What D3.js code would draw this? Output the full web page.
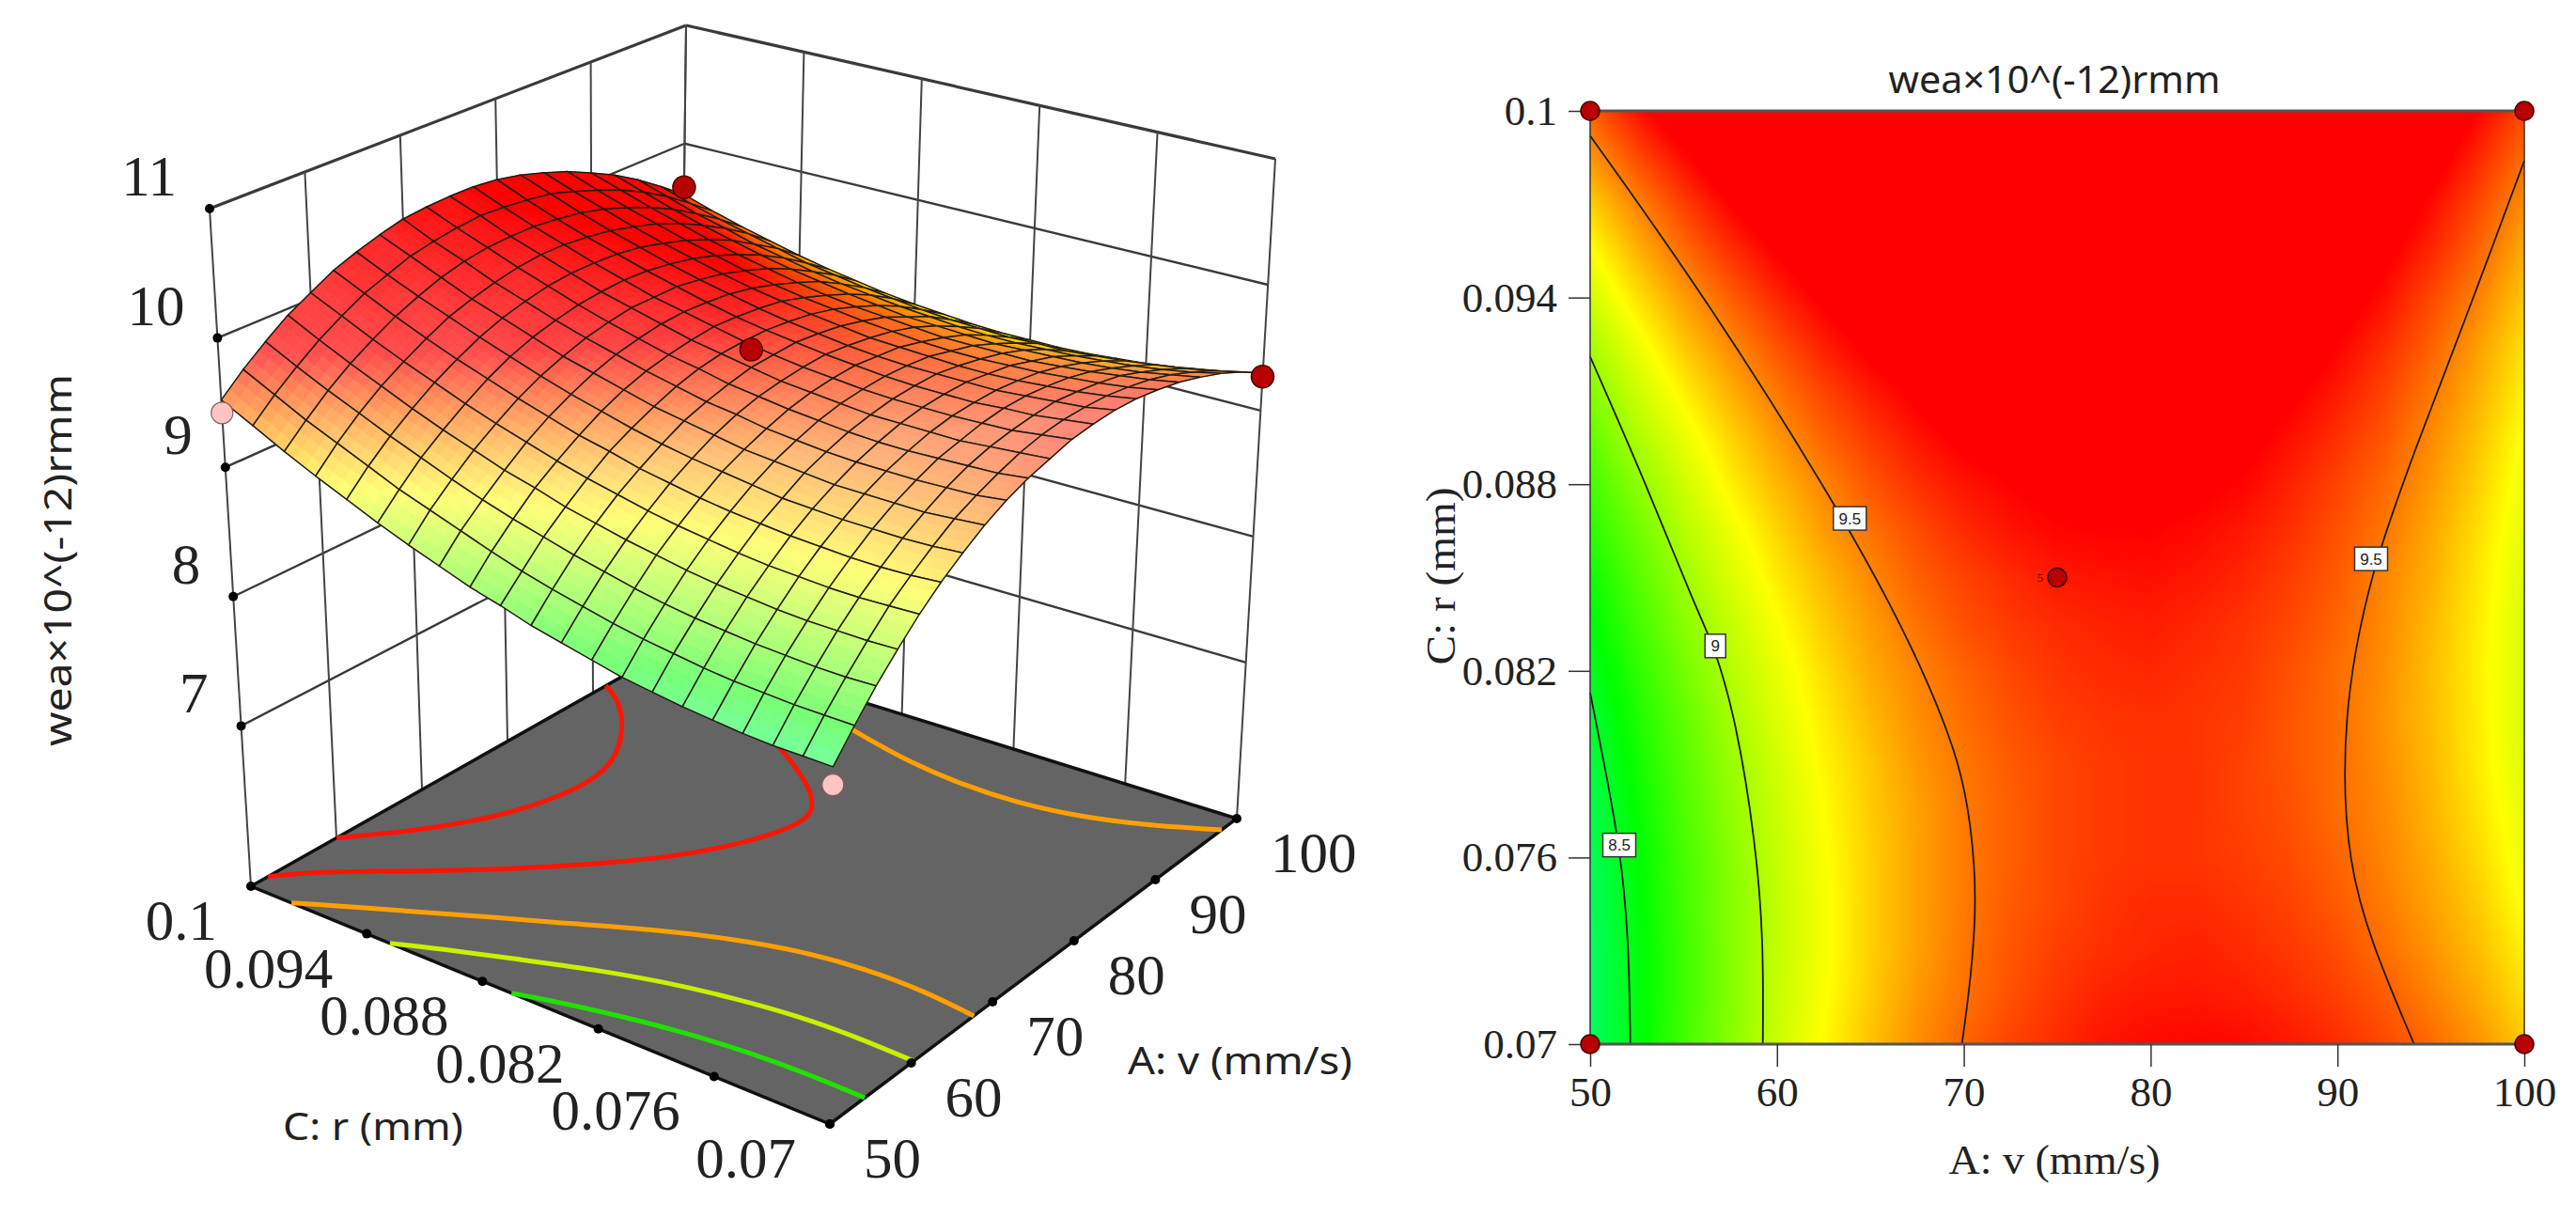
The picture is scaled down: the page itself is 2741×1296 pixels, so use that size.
<!DOCTYPE html>
<html>
<head>
<meta charset="utf-8">
<script src="https://cdn.jsdelivr.net/npm/d3@7"></script>
<style>
  body { margin: 0; background: #fff; }
  svg { display: block; }
</style>
</head>
<body>
<script>
const vTicks = [50, 60, 70, 80, 90, 100];
const rTicks = [0.07, 0.076, 0.082, 0.088, 0.094, 0.1];
const rLabels = ['0.07', '0.076', '0.082', '0.088', '0.094', '0.1'];
const zTicks = [7, 8, 9, 10, 11];
const zFloor = 5.76;
const zTitle = 'wea\u00d710^(-12)rmm';

// response: one row per v step (50 to 100), one column per r step (0.07 to 0.1)
const zTable = [
  [8.33, 8.33, 8.33, 8.34, 8.36, 8.38, 8.41, 8.44, 8.49, 8.54, 8.59, 8.66, 8.72, 8.80, 8.88, 8.97, 9.07, 9.17, 9.28, 9.40, 9.52],
  [8.53, 8.53, 8.53, 8.54, 8.55, 8.57, 8.60, 8.63, 8.67, 8.72, 8.77, 8.83, 8.90, 8.98, 9.06, 9.14, 9.24, 9.34, 9.44, 9.56, 9.68],
  [8.72, 8.71, 8.71, 8.72, 8.73, 8.75, 8.77, 8.80, 8.84, 8.89, 8.94, 9.00, 9.06, 9.13, 9.21, 9.30, 9.39, 9.49, 9.59, 9.70, 9.82],
  [8.89, 8.88, 8.88, 8.88, 8.89, 8.91, 8.93, 8.96, 9.00, 9.04, 9.09, 9.14, 9.21, 9.27, 9.35, 9.43, 9.52, 9.62, 9.72, 9.83, 9.95],
  [9.05, 9.04, 9.03, 9.03, 9.04, 9.05, 9.07, 9.10, 9.13, 9.17, 9.22, 9.27, 9.33, 9.40, 9.47, 9.55, 9.64, 9.73, 9.83, 9.94, 10.05],
  [9.19, 9.17, 9.16, 9.16, 9.17, 9.18, 9.20, 9.22, 9.25, 9.29, 9.33, 9.39, 9.44, 9.51, 9.58, 9.66, 9.74, 9.83, 9.93, 10.04, 10.15],
  [9.31, 9.29, 9.28, 9.28, 9.28, 9.29, 9.30, 9.33, 9.36, 9.39, 9.43, 9.48, 9.54, 9.60, 9.67, 9.75, 9.83, 9.92, 10.01, 10.11, 10.22],
  [9.42, 9.40, 9.38, 9.38, 9.38, 9.38, 9.40, 9.42, 9.44, 9.48, 9.52, 9.56, 9.62, 9.68, 9.74, 9.82, 9.90, 9.98, 10.08, 10.18, 10.28],
  [9.51, 9.48, 9.47, 9.46, 9.46, 9.46, 9.47, 9.49, 9.51, 9.55, 9.58, 9.63, 9.68, 9.74, 9.80, 9.87, 9.95, 10.03, 10.13, 10.22, 10.33],
  [9.58, 9.55, 9.54, 9.53, 9.52, 9.52, 9.53, 9.55, 9.57, 9.60, 9.63, 9.68, 9.72, 9.78, 9.84, 9.91, 9.99, 10.07, 10.16, 10.25, 10.35],
  [9.63, 9.61, 9.59, 9.57, 9.57, 9.57, 9.57, 9.59, 9.61, 9.63, 9.67, 9.71, 9.75, 9.81, 9.87, 9.93, 10.01, 10.09, 10.17, 10.27, 10.36],
  [9.68, 9.65, 9.62, 9.61, 9.60, 9.60, 9.60, 9.61, 9.63, 9.65, 9.68, 9.72, 9.77, 9.82, 9.87, 9.94, 10.01, 10.09, 10.17, 10.26, 10.36],
  [9.70, 9.67, 9.64, 9.63, 9.61, 9.61, 9.61, 9.62, 9.64, 9.66, 9.69, 9.72, 9.76, 9.81, 9.87, 9.93, 10.00, 10.07, 10.15, 10.24, 10.34],
  [9.71, 9.67, 9.65, 9.63, 9.61, 9.61, 9.61, 9.61, 9.62, 9.64, 9.67, 9.70, 9.74, 9.79, 9.84, 9.90, 9.97, 10.04, 10.12, 10.21, 10.30],
  [9.70, 9.66, 9.63, 9.61, 9.59, 9.58, 9.58, 9.59, 9.60, 9.61, 9.64, 9.67, 9.71, 9.75, 9.80, 9.86, 9.92, 9.99, 10.07, 10.15, 10.24],
  [9.67, 9.63, 9.60, 9.58, 9.56, 9.55, 9.54, 9.54, 9.55, 9.57, 9.59, 9.62, 9.65, 9.69, 9.74, 9.80, 9.86, 9.93, 10.00, 10.08, 10.17],
  [9.63, 9.59, 9.56, 9.53, 9.51, 9.49, 9.49, 9.49, 9.49, 9.51, 9.53, 9.55, 9.58, 9.62, 9.67, 9.72, 9.78, 9.85, 9.92, 10.00, 10.08],
  [9.57, 9.53, 9.49, 9.46, 9.44, 9.43, 9.42, 9.41, 9.42, 9.43, 9.44, 9.47, 9.50, 9.54, 9.58, 9.63, 9.69, 9.75, 9.82, 9.90, 9.98],
  [9.50, 9.45, 9.41, 9.38, 9.36, 9.34, 9.33, 9.32, 9.32, 9.33, 9.35, 9.37, 9.40, 9.43, 9.47, 9.52, 9.57, 9.64, 9.70, 9.78, 9.86],
  [9.41, 9.36, 9.32, 9.29, 9.26, 9.24, 9.22, 9.22, 9.21, 9.22, 9.23, 9.25, 9.28, 9.31, 9.35, 9.39, 9.45, 9.51, 9.57, 9.64, 9.72],
  [9.30, 9.25, 9.21, 9.17, 9.14, 9.12, 9.10, 9.09, 9.09, 9.09, 9.10, 9.12, 9.14, 9.17, 9.21, 9.25, 9.30, 9.36, 9.42, 9.49, 9.57]
];

// contours, [v, r]
const contour85 = [[50, 0.0813], [50.76, 0.079], [51.6, 0.0763], [52.07, 0.0734], [52.15, 0.07]];
const contour90 = [[50, 0.0921], [53.07, 0.0879], [55.66, 0.084], [56.65, 0.0828], [57.85, 0.0803], [58.85, 0.0765], [59.28, 0.0734], [59.24, 0.07]];
const contour95a = [[50, 0.0992], [56.3, 0.0939], [63.2, 0.0873], [66.2, 0.084], [68.2, 0.0815], [69.8, 0.079], [70.4, 0.077], [70.7, 0.0747], [70.4, 0.0722], [69.9, 0.07]];
const contour95b = [[100, 0.0984], [97.9, 0.095], [96.2, 0.0923], [94.2, 0.0892], [92.3, 0.086], [91.4, 0.084], [90.6, 0.0815], [90.3, 0.0787], [90.6, 0.0759], [91.7, 0.0734], [94.1, 0.07]];

// contours on the floor of the 3D plot, [v, r]
const floor867 = [[54.29, 0.07], [54.4, 0.073], [54.15, 0.076], [53.5, 0.079], [52.4, 0.082], [50.95, 0.085], [50, 0.0865]];
const floor902 = [[60.3, 0.07], [60.5, 0.073], [60.3, 0.076], [59.5, 0.079], [58.3, 0.082], [56.5, 0.085], [54.15, 0.088], [51.75, 0.091], [50, 0.0928]];
const floor938a = [[67.7, 0.07], [68.4, 0.073], [68.4, 0.076], [67.7, 0.079], [66.1, 0.082], [63.8, 0.085], [60.75, 0.088], [57.8, 0.091], [54.5, 0.094], [51.15, 0.097], [50, 0.0979]];
const floor938b = [[98.15, 0.07], [95.95, 0.073], [94.4, 0.076], [93.65, 0.079], [93.7, 0.082], [94.35, 0.085], [95.65, 0.088], [97.15, 0.091], [99.05, 0.094], [100, 0.0955]];
const floor968 = [[52, 0.1], [55, 0.0988], [60.5, 0.0952], [66, 0.0919], [72, 0.0886], [77.5, 0.0865], [83, 0.0854], [85.5, 0.0862], [88, 0.0877], [92.5, 0.0919], [96.5, 0.0964], [99, 0.1]];
const floor1005 = [[60, 0.1], [62.5, 0.0989], [65, 0.0978], [70, 0.0961], [75, 0.0952], [80, 0.0949], [85, 0.0961], [90, 0.0985], [91.5, 0.1]];

const floorLines = [
  { pts: floor867, color: '#22e000' },
  { pts: floor902, color: '#c8f000' },
  { pts: floor938a, color: '#ffa000' },
  { pts: floor938b, color: '#ffa000' },
  { pts: floor968, color: '#ff1400' },
  { pts: floor1005, color: '#ff1400' }
];
const flatLines = [contour85, contour90, contour95a, contour95b];
const flatLabels = [[63.9, 0.0869, '9.5'], [91.8, 0.0856, '9.5'], [56.7, 0.0828, '9'], [51.56, 0.0764, '8.5']];

// design points, [v, r, z]
const lowPoints = [[50, 0.1, 9.42], [50, 0.07, 8.2]];
const highPoints = [[100, 0.1, 9.63], [100, 0.07, 9.27], [75, 0.085, 9.81]];
const flatPoints = [[50, 0.1], [100, 0.1], [50, 0.07], [100, 0.07], [75, 0.085]];

const serif = '"Liberation Serif", serif';
const sans = '"Noto Sans", sans-serif';

const svg = d3.select('body').append('svg').attr('width', 2741).attr('height', 1296);

const aScale = d3.scaleLinear().domain([50, 100]).range([0, 1]);
const cScale = d3.scaleLinear().domain([0.07, 0.1]).range([0, 1]);
const hScale = d3.scaleLinear().domain([zFloor, 11]).range([0, 1]);

const heat = d3.scaleLinear()
  .domain([7.94, 8.56, 9.18, 9.72])
  .range(['#00ffff', '#00ff00', '#ffff00', '#ff0000'])
  .clamp(true);
const heat3d = d3.scaleLinear()
  .domain([7.88, 8.5, 9.12, 9.76])
  .range(['#00ffff', '#00ff00', '#ffff00', '#ff0000'])
  .clamp(true);

// box corners on screen: a0c0, a1c0, a1c1, a0c1
const floorQuad = [[883, 1196], [1316, 871], [722, 686], [267, 943]];
const topQuad = [[890, 421], [1357, 169], [730, 27], [223, 222]];

function bilinear(q, a, c) {
  const x = (1 - a) * ((1 - c) * q[0][0] + c * q[3][0]) + a * ((1 - c) * q[1][0] + c * q[2][0]);
  const y = (1 - a) * ((1 - c) * q[0][1] + c * q[3][1]) + a * ((1 - c) * q[1][1] + c * q[2][1]);
  return [x, y];
}

function project(v, r, z) {
  const f = bilinear(floorQuad, aScale(v), cScale(r));
  const t = bilinear(topQuad, aScale(v), cScale(r));
  const h = hScale(z);
  return [f[0] + (t[0] - f[0]) * h, f[1] + (t[1] - f[1]) * h];
}

const line = d3.line();
const smooth = d3.line().curve(d3.curveBasis);

function drawSegment(g, a, b, color, width) {
  g.append('line')
    .attr('x1', a[0]).attr('y1', a[1])
    .attr('x2', b[0]).attr('y2', b[1])
    .attr('stroke', color).attr('stroke-width', width);
}

// 3D panel
const box = svg.append('g');
const vMin = 50, vMax = 100, rMin = 0.07, rMax = 0.1;

// back walls
zTicks.forEach(z => {
  const width = z === 11 ? 3.2 : 2.4;
  drawSegment(box, project(vMin, rMax, z), project(vMax, rMax, z), '#3a3a3a', width);
  drawSegment(box, project(vMax, rMax, z), project(vMax, rMin, z), '#3a3a3a', width);
});
vTicks.forEach(v => {
  drawSegment(box, project(v, rMax, zFloor), project(v, rMax, 11), '#444', 2);
});
rTicks.forEach(r => {
  drawSegment(box, project(vMax, r, zFloor), project(vMax, r, 11), '#444', 2);
});

// floor
box.append('path')
  .attr('d', line([project(vMin, rMin, zFloor), project(vMax, rMin, zFloor), project(vMax, rMax, zFloor), project(vMin, rMax, zFloor)]) + 'Z')
  .attr('fill', '#646464').attr('stroke', '#111').attr('stroke-width', 3.5);

floorLines.forEach(d => {
  box.append('path')
    .attr('d', smooth(d.pts.map(p => project(p[0], p[1], zFloor))))
    .attr('fill', 'none').attr('stroke', d.color).attr('stroke-width', 5);
});

// tick dots
const dotData = [];
rTicks.forEach(r => dotData.push(project(vMin, r, zFloor)));
vTicks.forEach(v => dotData.push(project(v, rMin, zFloor)));
zTicks.forEach(z => dotData.push(project(vMin, rMax, z)));
box.selectAll('circle.dot').data(dotData).enter().append('circle')
  .attr('class', 'dot')
  .attr('cx', d => d[0]).attr('cy', d => d[1]).attr('r', 5).attr('fill', '#000');

// surface, far cells first
const nCells = zTable.length - 1;
const vAt = d3.scaleLinear().domain([0, nCells]).range([vMin, vMax]);
const rAt = d3.scaleLinear().domain([0, nCells]).range([rMin, rMax]);

function tableZ(ii, jj) {
  const i = Math.min(Math.floor(ii), nCells - 1), j = Math.min(Math.floor(jj), nCells - 1);
  const u = ii - i, w = jj - j;
  return (1 - u) * ((1 - w) * zTable[i][j] + w * zTable[i][j + 1]) + u * ((1 - w) * zTable[i + 1][j] + w * zTable[i + 1][j + 1]);
}

// washed out where the surface faces the front, saturated on the far slope
function surfaceColor(ii, jj) {
  const z = tableZ(ii, jj);
  const i0 = Math.max(ii - 1, 0), i1 = Math.min(ii + 1, nCells);
  const j0 = Math.max(jj - 1, 0), j1 = Math.min(jj + 1, nCells);
  const za = (tableZ(i1, jj) - tableZ(i0, jj)) / (i1 - i0) * nCells;
  const zc = (tableZ(ii, j1) - tableZ(ii, j0)) / (j1 - j0) * nCells;
  const t = Math.max(0, Math.min(0.47, 0.345 + 0.13 * za - 0.16 * zc));
  return d3.interpolateRgb(heat3d(z), '#fff')(t);
}

const surface = svg.append('g');
const sub = 3;
for (let i = nCells - 1; i >= 0; i--) {
  for (let j = nCells - 1; j >= 0; j--) {
    for (let p = sub - 1; p >= 0; p--) {
      for (let q = sub - 1; q >= 0; q--) {
        const ii = i + p / sub, jj = j + q / sub, s = 1 / sub;
        const corners = [[ii, jj], [ii + s, jj], [ii + s, jj + s], [ii, jj + s]];
        const color = surfaceColor(ii + s / 2, jj + s / 2);
        surface.append('path')
          .attr('d', line(corners.map(k => project(vAt(k[0]), rAt(k[1]), tableZ(k[0], k[1])))) + 'Z')
          .attr('fill', color).attr('stroke', color).attr('stroke-width', 0.8);
      }
    }
    const cell = [[i, j], [i + 1, j], [i + 1, j + 1], [i, j + 1]];
    surface.append('path')
      .attr('d', line(cell.map(k => project(vAt(k[0]), rAt(k[1]), zTable[k[0]][k[1]]))) + 'Z')
      .attr('fill', 'none').attr('stroke', '#201a10').attr('stroke-width', 1.5);
  }
}

// design points
const marks = svg.append('g');
lowPoints.forEach(d => {
  const p = project(d[0], d[1], d[2]);
  marks.append('circle').attr('cx', p[0]).attr('cy', p[1]).attr('r', 11.5)
    .attr('fill', '#ffc4c4').attr('stroke', '#8a5a5a').attr('stroke-width', 1.2);
});
highPoints.forEach(d => {
  const p = project(d[0], d[1], d[2]);
  marks.append('circle').attr('cx', p[0]).attr('cy', p[1]).attr('r', 12)
    .attr('fill', '#b80000').attr('stroke', '#400').attr('stroke-width', 1.5);
});

// 3D tick labels
function tickText(p, text, anchor) {
  svg.append('text')
    .attr('x', p[0]).attr('y', p[1])
    .attr('text-anchor', anchor)
    .attr('font-family', serif).attr('font-size', 61)
    .attr('fill', '#222')
    .text(text);
}
rTicks.forEach((r, i) => {
  const p = project(vMin, r, zFloor);
  tickText([p[0] - 36, p[1] + 57], rLabels[i], 'end');
});
vTicks.forEach(v => {
  const p = project(v, rMin, zFloor);
  tickText([p[0] + 36, p[1] + 57], v, 'start');
});
zTicks.forEach(z => {
  const p = project(vMin, rMax, z);
  tickText([p[0] - 35, p[1] - 14], z, 'end');
});

svg.append('text')
  .attr('transform', 'translate(76,794) rotate(-90)')
  .attr('font-family', sans).attr('font-size', 40).attr('fill', '#222')
  .attr('textLength', 396).attr('lengthAdjust', 'spacingAndGlyphs')
  .text(zTitle);
svg.append('text')
  .attr('x', 1200).attr('y', 1143)
  .attr('font-family', sans).attr('font-size', 40).attr('fill', '#222')
  .attr('textLength', 239).attr('lengthAdjust', 'spacingAndGlyphs')
  .text('A: v (mm/s)');
svg.append('text')
  .attr('x', 301).attr('y', 1213)
  .attr('font-family', sans).attr('font-size', 40).attr('fill', '#222')
  .attr('textLength', 192).attr('lengthAdjust', 'spacingAndGlyphs')
  .text('C: r (mm)');

// flat panel
const x = d3.scaleLinear().domain([50, 100]).range([1692, 2686]);
const y = d3.scaleLinear().domain([0.07, 0.1]).range([1111, 118]);

// colour raster from the table
const w = 994, h = 993;
const canvas = document.createElement('canvas');
canvas.width = w; canvas.height = h;
const ctx = canvas.getContext('2d');
const img = ctx.createImageData(w, h);
for (let py = 0; py < h; py++) {
  for (let px = 0; px < w; px++) {
    const col = d3.rgb(heat(tableZ(px / (w - 1) * nCells, (1 - py / (h - 1)) * nCells)));
    const k = (py * w + px) * 4;
    img.data[k] = col.r; img.data[k + 1] = col.g; img.data[k + 2] = col.b; img.data[k + 3] = 255;
  }
}
ctx.putImageData(img, 0, 0);
svg.append('image').attr('x', 1692).attr('y', 118).attr('width', w).attr('height', h)
  .attr('href', canvas.toDataURL());

const flatLine = d3.line().x(d => x(d[0])).y(d => y(d[1])).curve(d3.curveBasis);
flatLines.forEach(pts => {
  svg.append('path').attr('d', flatLine(pts))
    .attr('fill', 'none').attr('stroke', '#1a1a1a').attr('stroke-width', 1.8);
});

svg.append('rect').attr('x', 1692).attr('y', 118).attr('width', w).attr('height', h)
  .attr('fill', 'none').attr('stroke', '#333').attr('stroke-width', 1.5);
[118, 1111].forEach(yy => drawSegment(svg, [1692, yy], [2686, yy], '#555', 3));

const xAxis = d3.axisBottom(x).tickValues(vTicks).tickSize(24).tickPadding(10);
const yAxis = d3.axisLeft(y).tickValues(rTicks).tickSize(23).tickPadding(12).tickFormat((d, i) => rLabels[i]);
const gx = svg.append('g').attr('transform', 'translate(0,1111)').call(xAxis);
const gy = svg.append('g').attr('transform', 'translate(1692,0)').call(yAxis);
[gx, gy].forEach(g => {
  g.select('.domain').remove();
  g.selectAll('line').attr('stroke', '#333').attr('stroke-width', 1.5);
  g.selectAll('text').attr('font-family', serif).attr('font-size', 45).attr('fill', '#222');
});

flatLabels.forEach(d => {
  const bw = d[2].length > 1 ? 35 : 22;
  const g = svg.append('g').attr('transform', `translate(${x(d[0])},${y(d[1])})`);
  g.append('rect').attr('x', -bw / 2).attr('y', -12.5).attr('width', bw).attr('height', 25)
    .attr('fill', '#fff').attr('stroke', '#333').attr('stroke-width', 1.5);
  g.append('text').attr('text-anchor', 'middle').attr('y', 6)
    .attr('font-family', '"Liberation Sans Narrow", "Liberation Sans", sans-serif').attr('font-size', 17).attr('fill', '#222')
    .text(d[2]);
});

flatPoints.forEach(d => {
  svg.append('circle').attr('cx', x(d[0])).attr('cy', y(d[1])).attr('r', 10)
    .attr('fill', '#b80000').attr('stroke', '#400').attr('stroke-width', 1.5);
});
svg.append('text').attr('x', x(75) - 15).attr('y', y(0.085) + 4)
  .attr('text-anchor', 'end').attr('font-family', serif).attr('font-size', 13).attr('fill', '#600')
  .text('5');

svg.append('text')
  .attr('x', 2186).attr('y', 99).attr('text-anchor', 'middle')
  .attr('font-family', sans).attr('font-size', 40).attr('fill', '#222')
  .attr('textLength', 353).attr('lengthAdjust', 'spacingAndGlyphs')
  .text(zTitle);
svg.append('text')
  .attr('x', 2186).attr('y', 1249).attr('text-anchor', 'middle')
  .attr('font-family', serif).attr('font-size', 44).attr('fill', '#222')
  .attr('textLength', 225).attr('lengthAdjust', 'spacingAndGlyphs')
  .text('A: v (mm/s)');
svg.append('text')
  .attr('transform', 'translate(1548,613) rotate(-90)').attr('text-anchor', 'middle')
  .attr('font-family', serif).attr('font-size', 44).attr('fill', '#222')
  .attr('textLength', 189).attr('lengthAdjust', 'spacingAndGlyphs')
  .text('C: r (mm)');
</script>
</body>
</html>
